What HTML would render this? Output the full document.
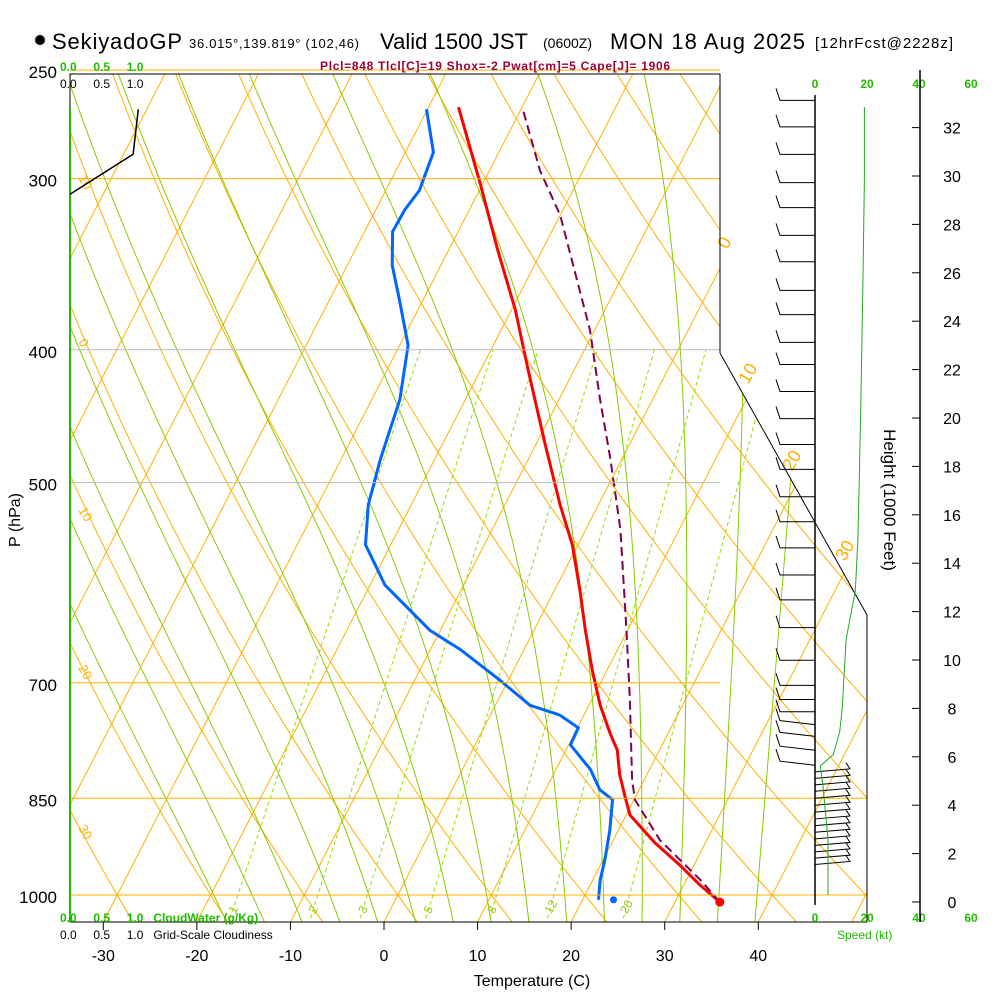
<!DOCTYPE html>
<html><head><meta charset="utf-8"><style>
body{margin:0;background:#fff;width:1000px;height:1000px;overflow:hidden;font-family:"Liberation Sans",sans-serif}
svg text{font-family:"Liberation Sans",sans-serif;white-space:pre}
</style></head><body>
<svg id="chart" width="1000" height="1000" viewBox="0 0 1000 1000" xmlns="http://www.w3.org/2000/svg">
<defs><clipPath id="plotclip"><polygon points="70,74 720,74 720,353 867,615 867,922 70,922"/></clipPath></defs>
<g id="bg" clip-path="url(#plotclip)"></g>
<g id="series" clip-path="url(#plotclip)"></g>
<g id="fg"></g>
<g id="labels" font-size="16" fill="#000">
<circle cx="40" cy="40" r="5" fill="#000"/>
<text x="52" y="49" font-size="22" textLength="130">SekiyadoGP</text>
<text x="189" y="48" font-size="13" textLength="170">36.015°,139.819° (102,46)</text>
<text x="380" y="49" font-size="22" textLength="148">Valid 1500 JST</text>
<text x="543" y="48" font-size="14">(0600Z)</text>
<text x="610" y="49" font-size="22" textLength="195">MON 18 Aug 2025</text>
<text x="815" y="48" font-size="15" textLength="138">[12hrFcst@2228z]</text>
<text x="320" y="70" font-size="12" font-weight="bold" fill="#990040" textLength="350">Plcl=848 Tlcl[C]=19 Shox=-2 Pwat[cm]=5 Cape[J]= 1906</text>
<text x="60" y="71" font-size="12" font-weight="bold" fill="#22bb00">0.0     0.5     1.0</text>
<text x="60" y="88" font-size="12">0.0     0.5     1.0</text>
<text x="60" y="922" font-size="12" font-weight="bold" fill="#22bb00">0.0     0.5     1.0   CloudWater (g/Kg)</text>
<text x="60" y="939" font-size="12">0.0     0.5     1.0   Grid-Scale Cloudiness</text>
<text x="837" y="939" font-size="12" fill="#22bb00">Speed (kt)</text>
<text x="532" y="986" font-size="16" text-anchor="middle">Temperature (C)</text>
<text transform="translate(20,520) rotate(-90)" font-size="16" text-anchor="middle">P (hPa)</text>
<text transform="translate(884,500) rotate(90)" font-size="17" text-anchor="middle">Height (1000 Feet)</text>
</g>
</svg>
<script>
// ---- data ----
const tempP = [1012,983,952,916,874,848,817,784,762,727,685,641,599,555,519,469,414,374,338,303,266];
const tempT = [34.8,31.7,28.6,24.6,20.4,18.9,17.1,15.5,13.8,11.2,8.4,5.5,2.7,-0.6,-4.1,-9.0,-14.9,-19.6,-24.8,-30.2,-36.8];
const dewP = [1008,975,943,897,852,838,810,777,755,739,727,697,662,641,594,555,519,481,435,397,368,347,328,316,306,287,267];
const dewT = [21.7,20.8,20.2,19.1,17.7,15.8,13.7,10.2,10.1,7.4,3.7,-0.9,-6.8,-11.1,-18.4,-22.7,-24.6,-25.8,-27.0,-29.1,-32.5,-35.2,-37.0,-36.9,-36.4,-37.0,-40.1];
const parcelP = [1012,975,912,852,824,721,641,541,481,435,387,319,296,266];
const parcelT = [34.8,31.5,25.0,20.1,18.7,14.1,9.9,3.7,-1.2,-5.6,-10.5,-20.0,-24.6,-30.0];
const speedP = [266,300,350,400,450,500,550,600,650,700,730,760,790,805,830,870,910,1000];
const speedKt = [19,19,18.5,18,17.5,17,16.5,15.5,12,11,10.5,9.5,7,2,3,4,5,5];
const windP = [263,275,288,302,315,330,345,362,377,395,410,429,449,469,489,512,534,558,584,609,638,674,703,720,735,751,766,784,804,813,822,831,840,850,860,870,880,890,900,910,920,930,940,950];
const windSide = [-1,-1,-1,-1,-1,-1,-1,-1,-1,-1,-1,-1,-1,-1,-1,-1,-1,-1,-1,-1,-1,-1,-1,-1,-1,-1,-1,-1,-1,1,1,1,1,1,1,1,1,1,1,1,1,1,1,1];
const pressureTicks = [250,300,400,500,700,850,1000];
const tempTicks = [-30,-20,-10,0,10,20,30,40];
const heightTicks = [0,2,4,6,8,10,12,14,16,18,20,22,24,26,28,30,32];
const mixRatios = [1,2,3,5,8,12,20];
const cloudP = [308,288,267];
const cloudV = [0,0.97,1.05];

// ---- axes ----
const NS='http://www.w3.org/2000/svg';
const yP = p => 895 - 595*Math.log(1000/p);
const xT = (T,p) => 384 + 9.357*T + 0.514*(922 - yP(p));
const xS = kt => 815 + 2.6*kt;
const yH = h => 902 - 24.2*h;
function mk(tag, attrs, parent){const e=document.createElementNS(NS,tag);for(const k in attrs)e.setAttribute(k,attrs[k]);parent.appendChild(e);return e;}
const bg=document.getElementById('bg'), ser=document.getElementById('series'), fg=document.getElementById('fg');
function pathFrom(ps,ts){return ps.map((p,i)=>(i?'L':'M')+xT(ts[i],p).toFixed(1)+','+yP(p).toFixed(1)).join('');}

// isotherms
for(let T=-160;T<=50;T+=10){
  const e=mk('line',{x1:xT(T,1060),y1:yP(1060),x2:xT(T,240),y2:yP(240),stroke:'#ffb000','stroke-width':1},bg);
  
  
}
// dry adiabats
for(let th=-60;th<=220;th+=10){
  let d='';
  for(let p=1060;p>=240;p-=10){const T=(th+273.15)*Math.pow(p/1000,0.286)-273.15;d+=(d?'L':'M')+xT(T,p).toFixed(1)+','+yP(p).toFixed(1);}
  const e=mk('path',{d:d,fill:'none',stroke:'#ffb000','stroke-width':1},bg);
  
  
}
// moist adiabats
function es(T){return 6.112*Math.exp(17.67*T/(T+243.5));}
for(let T0=-16;T0<=40;T0+=4){
  let T=T0+273.15,d='';
  for(let p=1060;p>=240;p-=5){
    const x=xT(T-273.15,p),y=yP(p);d+=(d?'L':'M')+x.toFixed(1)+','+y.toFixed(1);
    const rs=0.622*es(T-273.15)/(p-es(T-273.15));
    const dTdp=(287*T+2.5e6*rs)/(1004+2.5e6*2.5e6*rs*0.622/(287*T*T))/p;
    T-=dTdp*5;
  }
  const e=mk('path',{d:d,fill:'none',stroke:'#88cc00','stroke-width':1},bg);
  
  
}
// mixing ratio lines
function tdW(w,p){const e=w*p/(622+w);const l=Math.log(e/6.112);return 243.5*l/(17.67-l);}
mixRatios.forEach(w=>{
  const e=mk('line',{x1:xT(tdW(w,1040),1040),y1:yP(1040),x2:xT(tdW(w,400),400),y2:yP(400),stroke:'#99dd00','stroke-width':1,'stroke-dasharray':'4,3'},bg);
  
  
  const t=mk('text',{x:xT(tdW(w,1000),1000)-8,y:yP(1000)+18,'font-size':12,fill:'#99cc00',transform:`rotate(-60 ${xT(tdW(w,1000),1000)-4} ${yP(1000)+14})`},fg);
  t.textContent=w;
  
  
});
// pressure lines
pressureTicks.forEach(p=>{
  const orange=(p==300||p==700||p==850||p==1000||p==250);
  const e=mk('line',{x1:70,y1:yP(p),x2:(p>=850?867:720),y2:yP(p),stroke:orange?'#ffb000':'#bbbbbb','stroke-width':1},fg);
  
  
  const t=mk('text',{x:57,y:yP(p)+8,'font-size':17,'text-anchor':'end'},fg);
  t.textContent=p;
  
  
});
// adiabat / isotherm labels
[['10',78,178],['0',78,342],['10',78,510],['20',78,668],['30',78,828]].forEach(a=>{
  const t=mk('text',{x:a[1],y:a[2],'font-size':13,fill:'#ffb000',transform:`rotate(60 ${a[1]} ${a[2]})`},fg);
  t.textContent=a[0];
  
  
});
[['0',727,250],['10',748,385],['20',792,472],['30',845,562]].forEach(a=>{
  const t=mk('text',{x:a[1],y:a[2],'font-size':18,fill:'#ffb000',transform:`rotate(-60 ${a[1]} ${a[2]})`},fg);
  t.textContent=a[0];
  
  
});
// frame
const fr=mk('path',{d:'M70,74 L720,74 L720,353 L867,615 L867,922 L70,922 Z',fill:'none',stroke:'#000','stroke-width':1},fg);


const lg=mk('line',{x1:70,y1:108,x2:70,y2:922,stroke:'#22bb00','stroke-width':2},fg);


// cloudiness
const cl=mk('path',{d:cloudP.map((p,i)=>(i?'L':'M')+(70+cloudV[i]*65).toFixed(1)+','+yP(p).toFixed(1)).join(''),fill:'none',stroke:'#000','stroke-width':1.5},fg);


// temp ticks
tempTicks.forEach(T=>{
  const x=384+9.357*T;
  const e=mk('line',{x1:x,y1:922,x2:x,y2:930,stroke:'#000'},fg);
  
  
  const t=mk('text',{x:x,y:961,'font-size':16,'text-anchor':'middle'},fg);
  t.textContent=T;
  
  
});
// series
const tl=mk('path',{d:pathFrom(tempP,tempT),fill:'none',stroke:'#ff0000','stroke-width':3},ser);


const dl=mk('path',{d:pathFrom(dewP,dewT),fill:'none',stroke:'#0066ff','stroke-width':3},ser);


const pl=mk('path',{d:pathFrom(parcelP,parcelT),fill:'none',stroke:'#800050','stroke-width':2,'stroke-dasharray':'9,5'},ser);


const sd=mk('circle',{cx:xT(tempT[0],tempP[0]),cy:yP(tempP[0]),r:4.5,fill:'#ff0000'},fg);


const sdd=mk('circle',{cx:xT(dewT[0],dewP[0])+15,cy:yP(dewP[0]),r:3.5,fill:'#0066ff'},fg);


// wind barbs
const wa=mk('line',{x1:815,y1:95,x2:815,y2:905,stroke:'#000','stroke-width':1.5},fg);


windP.forEach((p,i)=>{
  const y=yP(p),s=windSide[i];
  let d;
  if(s<0){const x2=780;const y2=y-(p>740?4:0);d=`M815,${y}L${x2},${y2}L${x2-4},${y2-12}`;}
  else{d=`M815,${y}L850,${y-3}L846,${y-9}`;}
  const e=mk('path',{d:d,fill:'none',stroke:'#000','stroke-width':1},fg);
  
  
});
// speed line
const sl=mk('path',{d:speedP.map((p,i)=>(i?'L':'M')+xS(speedKt[i]).toFixed(1)+','+yP(p).toFixed(1)).join(''),fill:'none',stroke:'#22aa22','stroke-width':1},fg);


[0,20,40,60].forEach(k=>{
  [88,922].forEach(yy=>{
    const t=mk('text',{x:xS(k),y:yy,'font-size':12,'font-weight':'bold','text-anchor':'middle',fill:'#22bb00'},fg);
    t.textContent=k;
    
    
  });
});
// height axis
const ha=mk('line',{x1:920,y1:70,x2:920,y2:922,stroke:'#000','stroke-width':1.5},fg);


heightTicks.forEach(h=>{
  const e=mk('line',{x1:912,y1:yH(h),x2:920,y2:yH(h),stroke:'#000'},fg);
  
  
  const t=mk('text',{x:952,y:yH(h)+6,'font-size':16,'text-anchor':'middle'},fg);
  t.textContent=h;
  
  
});
</script>
</body></html>
